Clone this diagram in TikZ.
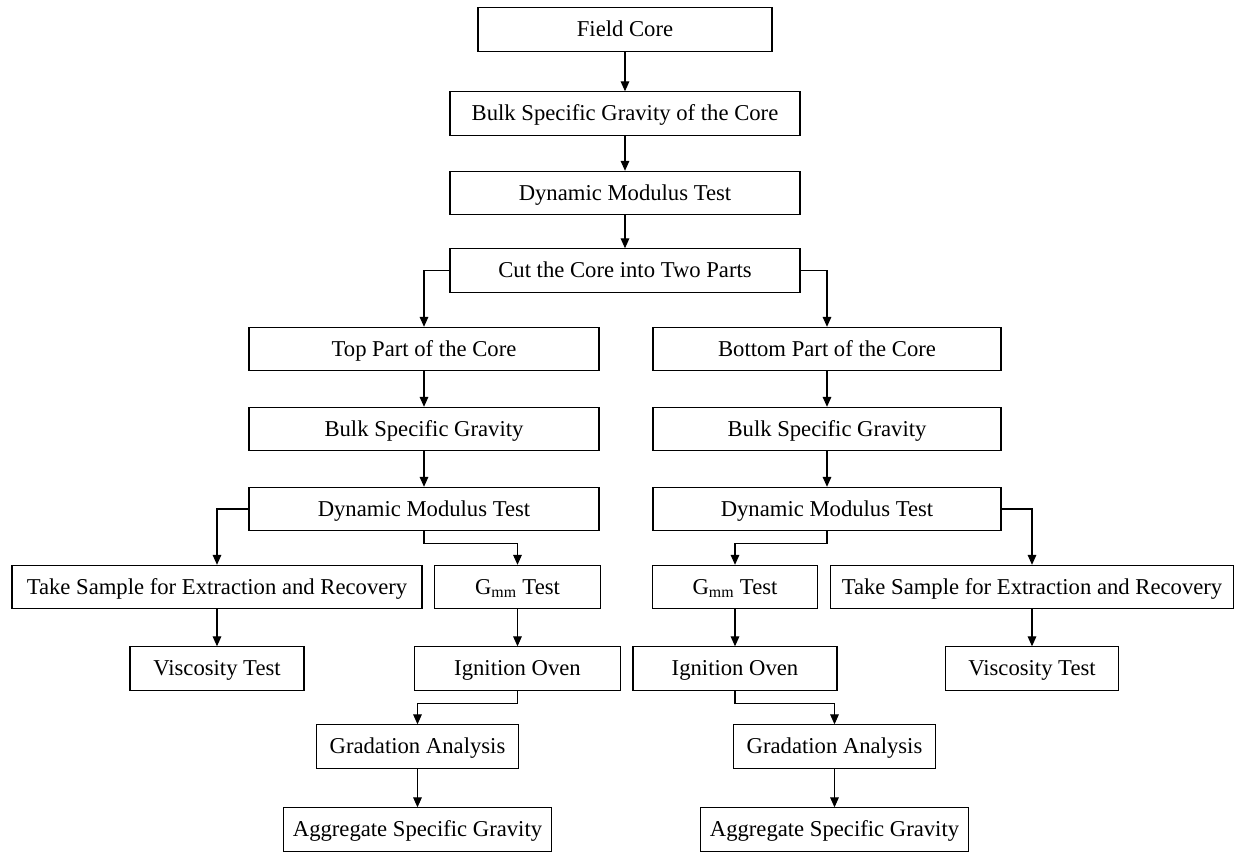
\documentclass[tikz,border=0pt]{standalone}
\usepackage{fontspec}
\setmainfont{Liberation Serif}
\usetikzlibrary{arrows.meta}
\begin{document}
\begin{tikzpicture}[x=0.75pt,y=-0.75pt,
	box/.style={draw, line width=0.8pt, minimum height=32.5pt, inner sep=0pt, text height=14pt, text depth=2.8pt, font=\fontsize{17}{20}\selectfont},
	>={Triangle[length=7.5pt,width=6.5pt]}, line width=0.8pt]
			\useasboundingbox (0,0) rectangle (1238,852);
			\node	(core) at (625,29.5) [box, minimum width=220.5pt] {Field Core};
			\node	(bsg) at (625,113.5) [box, minimum width=262.5pt] {Bulk Specific Gravity of the Core};
			\node	(dm) at (625,193) [box, minimum width=262.5pt] {Dynamic Modulus Test};
			\node	(cut) at (625,270.5) [box, minimum width=262.5pt] {Cut the Core into Two Parts};
			% top part
			\node	(top) at (424,349) [box, minimum width=262.5pt] {Top Part of the Core};
			\node	(bsgT) at (424,429) [box, minimum width=262.5pt] {Bulk Specific Gravity};
			\node	(dmT) at (424,509) [box, minimum width=262.5pt] {Dynamic Modulus Test};
			\node	(tsT) at (217,587) [box, minimum width=307.5pt] {Take Sample for Extraction and Recovery};
			\node	(gmmT) at (517.5,587) [box, minimum width=124pt] {G\textsubscript{mm} Test};
			\node	(visT) at (217,668.5) [box, minimum width=130.5pt] {Viscosity Test};
			\node	(ignT) at (517.5,668.5) [box, minimum width=154pt] {Ignition Oven};
			\node	(gradT) at (417.5,746.5) [box, minimum width=152pt] {Gradation Analysis};
			\node	(aggT) at (417.5,829.5) [box, minimum width=201pt] {Aggregate Specific Gravity};
			% bottom part
			\node	(bot) at (827,349) [box, minimum width=261pt] {Bottom Part of the Core};
			\node	(bsgB) at (827,429) [box, minimum width=261pt] {Bulk Specific Gravity};
			\node	(dmB) at (827,509) [box, minimum width=261pt] {Dynamic Modulus Test};
			\node	(gmmB) at (735,587) [box, minimum width=124pt] {G\textsubscript{mm} Test};
			\node	(tsB) at (1032,587) [box, minimum width=302pt] {Take Sample for Extraction and Recovery};
			\node	(ignB) at (735,668.5) [box, minimum width=153pt] {Ignition Oven};
			\node	(visB) at (1032,668.5) [box, minimum width=130pt] {Viscosity Test};
			\node	(gradB) at (834.5,746.5) [box, minimum width=152pt] {Gradation Analysis};
			\node	(aggB) at (834.5,829.5) [box, minimum width=201pt] {Aggregate Specific Gravity};
			\draw 
			(core) edge[->] (bsg) 
			(bsg) edge[->] (dm)
			(dm) edge[->] (cut)
			(top) edge[->] (bsgT)
			(bsgT) edge[->] (dmT)
			(tsT) edge[->] (visT)
			(gmmT) edge[->] (ignT)
			(gradT) edge[->] (aggT)
			(bot) edge[->] (bsgB)
			(bsgB) edge[->] (dmB)
			(tsB) edge[->] (visB)
			(gmmB) edge[->] (ignB)
			(gradB) edge[->] (aggB)
			;
			\draw[->] (cut.west) -| (top.north);
			\draw[->] (cut.east) -| (bot.north);
			\draw[->] (dmT.west) -| (tsT.north);
			\draw[->] (dmT.south) -- ++(0,12) -| (gmmT.north);
			\draw[->] (dmB.east) -| (tsB.north);
			\draw[->] (dmB.south) -- ++(0,12) -| (gmmB.north);
			\draw[->] (ignT.south) -- ++(0,13) -| (gradT.north);
			\draw[->] (ignB.south) -- ++(0,13) -| (gradB.north);
		\end{tikzpicture}
\end{document}
